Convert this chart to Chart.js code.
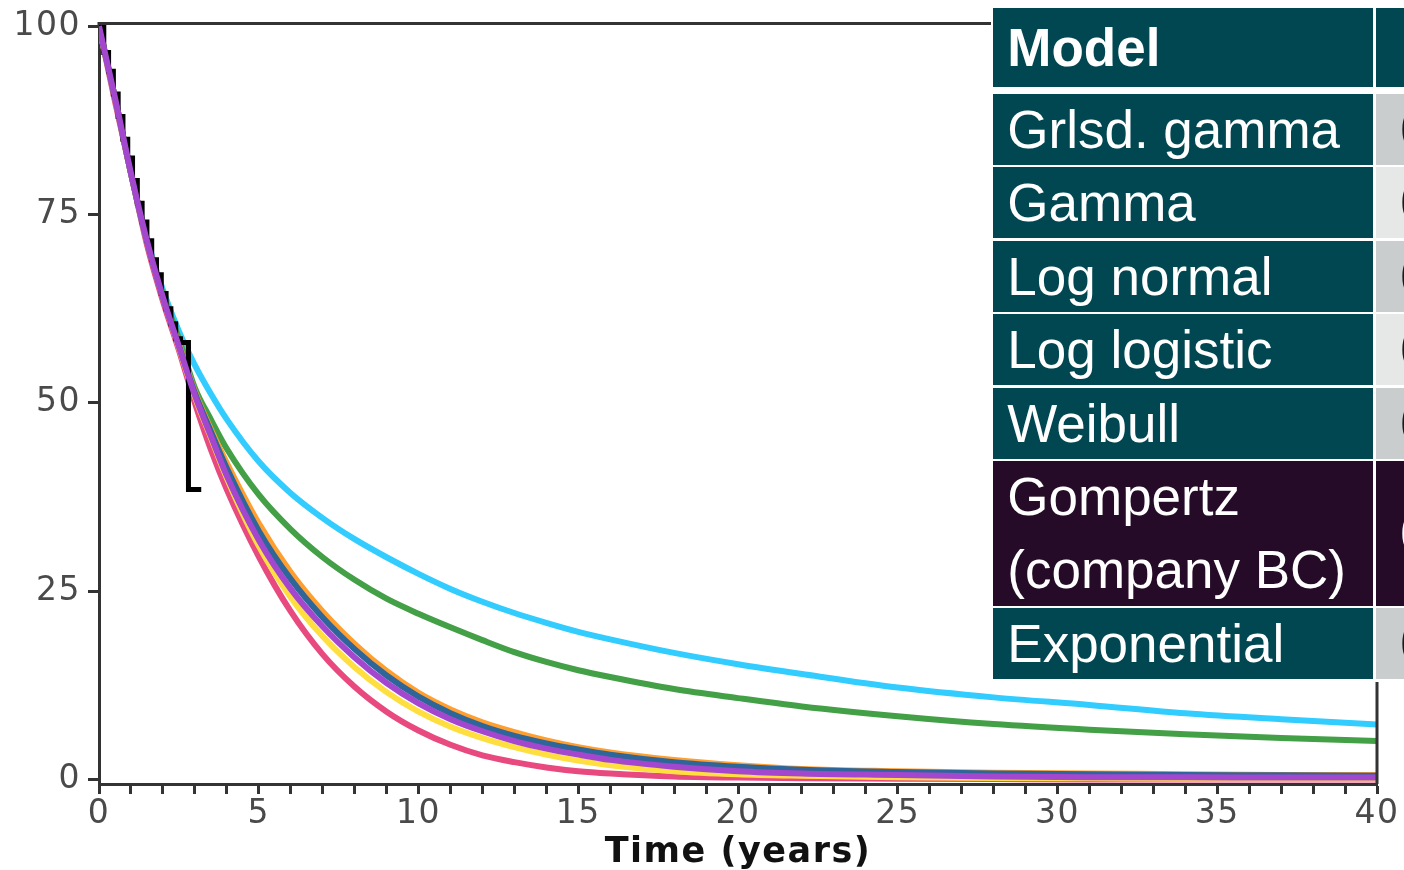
<!DOCTYPE html>
<html>
<head>
<meta charset="utf-8">
<script src="https://cdn.jsdelivr.net/npm/chart.js@4.4.1/dist/chart.umd.min.js"></script>
<style>
    body { margin: 0; background: #fff; }
    #wrap { position: relative; width: 1404px; height: 870px; overflow: hidden; }
    #survivalChart { position: absolute; left: 0; top: 0; }
    #modelTable {
        position: absolute; left: 991px; top: 0; width: 413px; height: 682px;
        background: #fff; font-family: 'Liberation Sans', Arial, sans-serif;
    }
    .cell {
        position: absolute; box-sizing: border-box; overflow: hidden;
        display: flex; align-items: center; white-space: pre-line;
        font-size: 53px; line-height: 73px; color: #fff;
    }
    .head { font-weight: bold; }
</style>
</head>
<body>
<div id="wrap">
    <canvas id="survivalChart" width="1404" height="870"></canvas>
    <div id="modelTable"></div>
</div>
<script>
// model curves (survival %, by year)
const years = [0, 0.5, 1, 1.5, 2, 2.5, 3, 3.5, 4, 5, 6, 7, 8, 9, 10, 11, 12, 13, 14, 15, 16, 18, 20, 22, 25, 28, 31, 34, 37, 40];
const survCyan = [100, 90.5, 80.5, 71.8, 65, 59.5, 55, 51.2, 47.8, 42.2, 38, 34.7, 31.9, 29.5, 27.3, 25.3, 23.6, 22.1, 20.8, 19.6, 18.6, 16.8, 15.3, 14.0, 12.2, 10.9, 9.9, 8.8, 8.0, 7.3];
const survGreen = [100, 90.5, 80.5, 71.5, 64.5, 58.5, 52, 47.8, 43.9, 37.8, 33.2, 29.5, 26.5, 24.0, 22.0, 20.2, 18.5, 16.9, 15.6, 14.5, 13.6, 12.0, 10.8, 9.7, 8.4, 7.35, 6.6, 6.0, 5.5, 5.1];
const survOrange = [100, 90.5, 80.5, 71.5, 64, 57.8, 51.5, 46.5, 42, 34, 27.5, 22.3, 18, 14.4, 11.5, 9.3, 7.6, 6.3, 5.2, 4.3, 3.6, 2.6, 1.9, 1.4, 1.1, 0.9, 0.8, 0.7, 0.6, 0.6];
const survBlue = [100, 90.5, 80.5, 71.5, 64, 57.6, 51.3, 46.2, 41.3, 33, 26.6, 21.5, 17.3, 13.8, 11, 8.8, 7.1, 5.8, 4.8, 4.0, 3.3, 2.3, 1.7, 1.3, 1.0, 0.8, 0.7, 0.6, 0.55, 0.5];
const survPurple = [100, 90.5, 80.5, 71.5, 64, 57.5, 51, 45.6, 40.3, 31.8, 25.3, 20.3, 16.2, 12.8, 10.1, 8, 6.4, 5.1, 4.1, 3.3, 2.6, 1.7, 1.1, 0.8, 0.6, 0.4, 0.3, 0.3, 0.25, 0.25];
const survYellow = [100, 90.5, 80.5, 71.5, 64, 57.4, 50.8, 45.4, 40, 31, 24.2, 19, 14.9, 11.6, 9.0, 7.0, 5.5, 4.3, 3.3, 2.5, 1.9, 1.1, 0.7, 0.5, 0.3, 0.2, 0.15, 0.1, 0.1, 0.1];
const survPink = [100, 90, 80.5, 71, 63.5, 57, 50, 43.8, 38.5, 29.6, 22.3, 16.6, 12.3, 9.0, 6.5, 4.6, 3.2, 2.3, 1.6, 1.1, 0.8, 0.4, 0.25, 0.15, 0.1, 0.05, 0, 0, 0, 0];

// Kaplan-Meier steps
const kmTimes = [0, 0.15, 0.3, 0.45, 0.6, 0.75, 0.9, 1.05, 1.2, 1.35, 1.5, 1.65, 1.8, 1.95, 2.1, 2.25, 2.4, 2.55, 2.8, 3.2];
const kmSurv = [100, 96.5, 94, 91, 88, 85, 82.5, 79.5, 76.5, 74, 71.5, 69, 67, 64.5, 62.5, 60.5, 58.5, 58, 38.5, 38.5];

const yTicks = [0, 25, 50, 75, 100];
const xLabelEvery = 5;

const tableHeader = 'Model';
const tableRows = ['Grlsd. gamma', 'Gamma', 'Log normal', 'Log logistic', 'Weibull', 'Gompertz\n(company BC)', 'Exponential'];
const tableRowSpans = [1, 1, 1, 1, 1, 2, 1];
const highlightedRow = 5;
const secondColText = ['0', '0', '0', '0', '0', '0', '0'];

const TEAL = '#014751';
const PLUM = '#250B27';
const secondColShades = ['#C9CDCE', '#E6E8E7', '#C9CDCE', '#E6E8E7', '#C9CDCE', PLUM, '#C9CDCE'];

document.addEventListener('DOMContentLoaded', () => {
    buildTable();
    renderSurvivalChart();
});

function curve(xs, ys) {
    return xs.map((x, i) => ({ x: x, y: ys[i] }));
}

function modelLine(values, color, order) {
    return {
        data: curve(years, values),
        borderColor: color,
        borderWidth: 6,
        pointRadius: 0,
        cubicInterpolationMode: 'monotone',
        fill: false,
        order: order
    };
}

const framePlugin = {
    id: 'frame',
    beforeDraw(chart) {
        chart.ctx.letterSpacing = '1.5px';
    },
    afterDraw(chart) {
        const { ctx, chartArea } = chart;
        ctx.save();
        ctx.strokeStyle = '#333';
        ctx.lineWidth = 3;
        ctx.beginPath();
        ctx.moveTo(chartArea.left - 1.5, chartArea.top);
        ctx.lineTo(chartArea.right, chartArea.top);
        ctx.lineTo(chartArea.right, chartArea.bottom);
        ctx.stroke();
        ctx.restore();
    }
};

function renderSurvivalChart() {
    const ctx = document.getElementById('survivalChart').getContext('2d');
    const tickFont = { family: "'DejaVu Sans', sans-serif", size: 33, lineHeight: 1 };

    new Chart(ctx, {
        type: 'line',
        data: {
            datasets: [
                modelLine(survCyan, '#33CCFF', 8),
                modelLine(survGreen, '#43A047', 7),
                modelLine(survPink, '#E84A80', 6),
                modelLine(survOrange, '#FF9F30', 5),
                modelLine(survYellow, '#FFDE40', 4),
                modelLine(survBlue, '#2E6699', 3),
                {
                    data: curve(kmTimes, kmSurv),
                    borderColor: '#000',
                    borderWidth: 5,
                    pointRadius: 0,
                    stepped: 'before',
                    fill: false,
                    order: 2
                },
                modelLine(survPurple, '#A347CF', 1)
            ]
        },
        options: {
            responsive: false,
            animation: false,
            events: [],
            layout: { padding: { top: 18, right: 27, left: 0, bottom: 0 } },
            plugins: {
                legend: { display: false },
                tooltip: { enabled: false },
                title: { display: false }
            },
            scales: {
                x: {
                    type: 'linear',
                    min: 0,
                    max: 40,
                    afterFit: (scale) => { scale.height = 86; },
                    border: { display: true, color: '#333', width: 3 },
                    grid: { drawOnChartArea: false, drawTicks: true, tickLength: 10, tickWidth: 3, tickColor: '#333' },
                    ticks: {
                        stepSize: 1,
                        autoSkip: false,
                        maxRotation: 0,
                        minRotation: 0,
                        padding: 4,
                        color: '#4a4a4a',
                        font: tickFont,
                        callback: (v) => (v % xLabelEvery === 0 ? String(v) : '')
                    },
                    title: {
                        display: true,
                        text: 'Time (years)',
                        color: '#111',
                        padding: { top: 0, bottom: 0 },
                        font: { family: "'DejaVu Sans', sans-serif", size: 35, weight: 'bold', lineHeight: 1 }
                    }
                },
                y: {
                    type: 'linear',
                    min: -0.6,
                    max: 100.35,
                    afterFit: (scale) => { scale.width = 99; },
                    afterBuildTicks: (scale) => { scale.ticks = yTicks.map(v => ({ value: v })); },
                    border: { display: true, color: '#333', width: 3 },
                    grid: { drawOnChartArea: false, drawTicks: true, tickLength: 11, tickWidth: 3, tickColor: '#333' },
                    ticks: {
                        padding: 7,
                        color: '#4a4a4a',
                        font: tickFont
                    }
                }
            }
        },
        plugins: [framePlugin]
    });
}

function addCell(parent, left, top, width, height, bg, text, extraClass, textColor, padLeft) {
    const div = document.createElement('div');
    div.className = 'cell' + (extraClass ? ' ' + extraClass : '');
    div.style.left = left + 'px';
    div.style.top = top + 'px';
    div.style.width = width + 'px';
    div.style.height = height + 'px';
    div.style.background = bg;
    div.style.color = textColor;
    div.style.paddingLeft = padLeft + 'px';
    div.textContent = text;
    parent.appendChild(div);
}

function buildTable() {
    const table = document.getElementById('modelTable');
    const col1Left = 2.3, col1Width = 380;
    const col2Left = 385.3, col2Width = 40;
    const rowH = 71, rowGap = 2.5;

    addCell(table, col1Left, 8, col1Width, 79.3, TEAL, tableHeader, 'head', '#fff', 14);
    addCell(table, col2Left, 8, col2Width, 79.3, TEAL, '', 'head', '#fff', 0);

    let top = 93.5;
    tableRows.forEach((label, i) => {
        const span = tableRowSpans[i];
        const h = span * rowH + (span - 1) * rowGap;
        const bg = i === highlightedRow ? PLUM : TEAL;
        addCell(table, col1Left, top, col1Width, h, bg, label, '', '#fff', 14);
        const shade = secondColShades[i];
        addCell(table, col2Left, top, col2Width, h, shade, secondColText[i], '',
            i === highlightedRow ? '#fff' : '#1a1a1a', 24);
        top += h + rowGap;
    });
}
</script>
</body>
</html>
